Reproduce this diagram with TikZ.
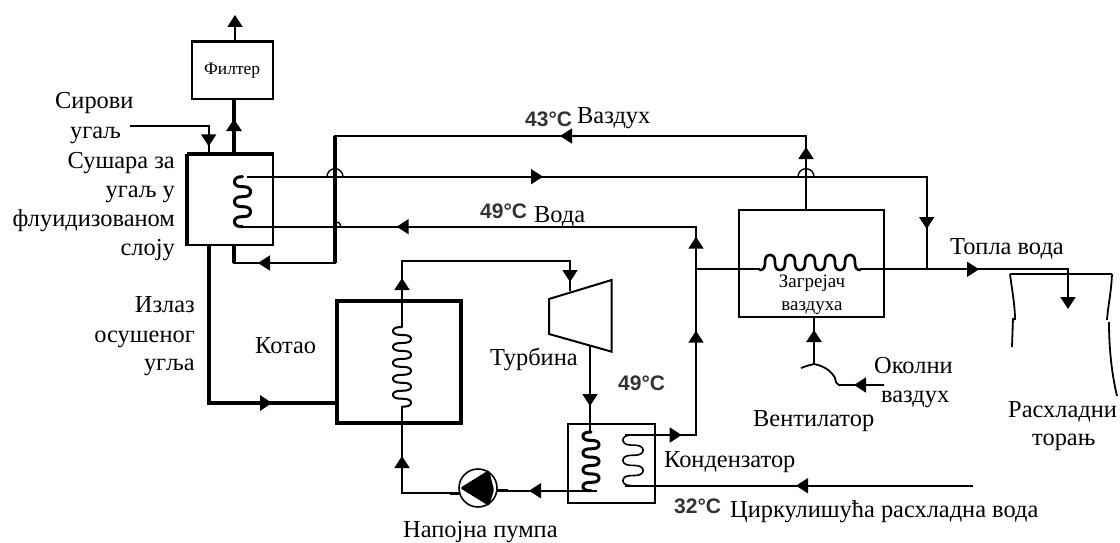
\documentclass[tikz,border=0pt]{standalone}
\usepackage{fontspec}
\setmainfont{Liberation Serif}
\newfontfamily\tempfont{Liberation Sans Bold}
\usetikzlibrary{arrows.meta,decorations.markings,calc}
\tikzset{
  tp/.tip={Triangle[width=15pt,length=12pt]},
  wire/.style={draw=black,line width=1.8pt,line join=miter},
  thin wire/.style={draw=black,line width=1.4pt},
  thick wire/.style={draw=black,line width=3.6pt},
  arrat/.style={postaction={decorate,decoration={markings,mark=at position #1 with {\arrow{tp}}}}},
  box/.style={draw=black,inner sep=0pt,anchor=center},
  lab/.style={font=\fontsize{24.4}{28}\selectfont,inner sep=0pt,anchor=base west},
  labr/.style={lab,anchor=base east},
  small lab/.style={font=\fontsize{19}{22}\selectfont,inner sep=0pt,anchor=base},
  temp/.style={font=\tempfont\fontsize{21}{24}\selectfont,inner sep=0pt,anchor=base west,text=black!80},
}
\newcommand{\coilv}[7]{\draw[line width=#1,line cap=round] plot[samples=161,domain=#6:#7,variable=\t] ({#2+#3*sin(\t)},{#4+(#5-#4)/(#7-#6)*(\t-#6)-0.45*(#5-#4)/(#7-#6)*57.3*sin(2*\t)});}
\newcommand{\coilh}[7]{\draw[line width=#1,line cap=round] plot[samples=161,domain=#6:#7,variable=\t] ({#4+(#5-#4)/(#7-#6)*(\t-#6)-0.45*(#5-#4)/(#7-#6)*57.3*sin(2*\t)},{#2+#3*sin(\t)});}
\begin{document}
\begin{tikzpicture}[x=1pt,y=-1pt]
\useasboundingbox[fill=white] (0,0) rectangle (1120,543);
% boxes
\node[box,line width=1.8pt,minimum width=81pt,minimum height=56.5pt,font=\fontsize{17.5}{20}\selectfont] (filter) at (232.2,70.8) {Филтер};
\node[box,line width=1.8pt,minimum width=85pt,minimum height=90pt] (dryer) at (230.5,200) {};
\node[box,line width=4pt,minimum width=124pt,minimum height=122pt] (boiler) at (399,362) {};
\node[box,line width=2.6pt,minimum width=87pt,minimum height=79pt] (cond) at (611.5,463.5) {};
\node[box,line width=1.8pt,minimum width=145pt,minimum height=106.5pt] (heater) at (811.5,263.5) {};
\node[circle,draw=black,line width=1.6pt,minimum size=38pt,inner sep=0pt] (pump) at (478,488) {};
% thick edges
\draw[line width=4pt] (dryer.south west) -- (dryer.north west);
\draw[line width=3.6pt] (dryer.north west) -- (dryer.north east);
\draw[line width=3pt] (filter.north west) -- (filter.north east);
% named points
\coordinate (coalin) at (130,126);
\coordinate (dryerin) at (208.7,155);
\coordinate (dryerout) at (234,155);
\coordinate (filterin) at (234,99);
\coordinate (filterout) at (235,42);
\coordinate (stack) at (235,15);
\coordinate (dry1) at (209,245);
\coordinate (dry2) at (209,403);
\coordinate (boilerw) at (336,403);
\coordinate (airout) at (806,210);
\coordinate (air1) at (806,136);
\coordinate (air2) at (335,136);
\coordinate (air3) at (335,263);
\coordinate (air4) at (234,263);
\coordinate (air5) at (234,245);
\coordinate (hot0) at (247,176.7);
\coordinate (hot1) at (926.7,176.7);
\coordinate (hot2) at (926.7,269.3);
\coordinate (ret0) at (625,435);
\coordinate (ret1) at (696,435);
\coordinate (ret2) at (696,226.7);
\coordinate (ret3) at (240,226.7);
\coordinate (jn) at (696,269.3);
\coordinate (hc0) at (760,269.3);
\coordinate (hc1) at (860,269.3);
\coordinate (tw0) at (1068,269.3);
\coordinate (tw1) at (1068,309);
\coordinate (cw0) at (973,485.7);
\coordinate (cw1) at (625,485.7);
\coordinate (fan0) at (884,385);
\coordinate (fan1) at (839,385);
\coordinate (fan2) at (814,364);
\coordinate (fan3) at (801,368);
\coordinate (heatin) at (814,317);
\coordinate (p1) at (597,490.7);
\coordinate (p2) at (497,490.7);
\coordinate (p3) at (459,493);
\coordinate (p4) at (402,493);
\coordinate (p5) at (402,406.7);
\coordinate (s0) at (402,327);
\coordinate (s1) at (402,261);
\coordinate (s2) at (570,261);
\coordinate (s3) at (570,291);
\coordinate (t0) at (590,346);
\coordinate (t1) at (590,432);
% turbine
\coordinate (ta) at (549,299); \coordinate (tb) at (611.7,280);
\coordinate (tc) at (611.7,351.7); \coordinate (td) at (549,334);
\draw[line width=2pt,line join=miter] (ta) -- (tb) -- (tc) -- (td) -- cycle;
% connectors
\draw[wire,arrat=99pt] (coalin) -| (dryerin);
\draw[thick wire,arrat=36pt] (dryerout) -- (filterin);
\draw[wire,-{tp}] (filterout) -- (stack);
\draw[line width=3.6pt,line join=miter,arrat=221pt] (dry1) |- (boilerw);
\draw[wire,arrat=63pt,arrat=320pt,arrat=749pt] (airout) -- (air1) -- (air2) -- (air3) -- (air4) -- (air5);
\draw[thick wire] (air2) -- (air3);
\draw[thick wire] (air4) -- (air5);
\draw[wire,arrat=296pt,arrat=732pt] (hot0) -- (hot1) -- (hot2);
\draw[wire,arrat=56.7pt,arrat=175.3pt,arrat=269.3pt,arrat=578.6pt] (ret0) -- (ret1) -- (ret2) -- (ret3);
% hops
\draw[thin wire] (327,176.7) arc[start angle=180,end angle=0,radius=8pt];
\draw[thin wire] (798,176.7) arc[start angle=180,end angle=0,radius=8pt];
\draw[thin wire] (336,221.7) arc[start angle=90,end angle=0,radius=5pt];
% heater coil and hot water
\draw[wire] (jn) -- (hc0);
\coilh{2.6pt}{262.5}{7.5}{760}{860}{90}{1890}
\draw[wire,arrat=119pt,-{tp}] (hc1) -- (tw0) -- (tw1);
% tower
\draw[wire] (1010,274) -- (1112,274);
\draw[wire] (1010,274) .. controls (1012,290) and (1015,305) .. (1015,320);
\draw[wire] (1013,318) -- (1012,347);
\draw[wire] (1112,274) .. controls (1111,295) and (1108,305) .. (1107,320);
\draw[wire] (1109,322) .. controls (1109,350) and (1112,375) .. (1117,396);
% fan
\draw[wire,arrat=30pt] (fan0) -- (fan1) .. controls (836,384) and (836,382) .. (835,378) .. controls (832,372) and (825,366) .. (fan2) .. controls (810,365) and (806,366) .. (fan3);
\draw[line width=2.6pt,arrat=34pt] (fan2) -- (heatin);
% cooling water
\draw[wire,arrat=177pt] (cw0) -- (cw1);
\coilv{1.6pt}{633}{10}{435}{485.7}{180}{1080}
% condenser -- pump -- boiler
\coilv{3pt}{591}{8}{432}{490.7}{180}{1440}
\draw[wire,arrat=68pt] (p1) -- (p2);
\draw[line width=3pt] (497,490.7) -- (508,490.7);
\draw[line width=3pt] (459,493) -- (450,493);
\draw[wire,arrat=94pt] (p3) -- (p4) -- (p5);
\coilv{2pt}{402}{9}{406.7}{327}{0}{1800}
\draw[wire,arrat=49pt,arrat=255pt] (s0) -- (s1) -- (s2) -- (s3);
\draw[wire,arrat=60pt] (t0) -- (t1);
% pump triangle
\fill[rounded corners=1.5pt] (460,488) -- (489,470) -- (494,490) -- (489,506) -- cycle;
% dryer coil
\coilv{3pt}{242.5}{8}{176.7}{226.7}{180}{1080}
% labels
\node[lab] (l1) at (55,109) {Сирови};
\node[lab] (l2) at (70,138) {угаљ};
\node[labr] (l3) at (175,168) {Сушара за};
\node[labr] (l4) at (175,197) {угаљ у};
\node[labr] (l5) at (175,226) {флуидизованом};
\node[labr] (l6) at (175,255) {слоју};
\node[labr] (l7) at (195,312) {Излаз};
\node[labr] (l8) at (195,342) {осушеног};
\node[labr] (l9) at (195,370) {угља};
\node[lab] (l10) at (255,353) {Котао};
\node[lab] (l11) at (490,365) {Турбина};
\node[lab] (l12) at (403,537) {Напојна пумпа};
\node[lab] (l13) at (664,467) {Кондензатор};
\node[lab] (l14) at (730,517) {Циркулишућа расхладна вода};
\node[lab] (l15) at (577,123) {Ваздух};
\node[lab] (l16) at (534,222) {Вода};
\node[lab] (l17) at (950,254) {Топла вода};
\node[lab] (l18) at (753,426) {Вентилатор};
\node[lab] (l19) at (874,373) {Околни};
\node[lab] (l20) at (881,402) {ваздух};
\node[lab] (l21) at (1008,417) {Расхладни};
\node[lab] (l22) at (1032,445) {торањ};
\node[small lab] (l23) at (812,287) {Загрејач};
\node[small lab] (l24) at (812,310) {ваздуха};
\node[temp] (t43) at (525,126) {43°C};
\node[temp] (t49a) at (480,218) {49°C};
\node[temp] (t49b) at (618,390) {49°C};
\node[temp] (t32) at (674,513) {32°C};
\end{tikzpicture}
\end{document}
